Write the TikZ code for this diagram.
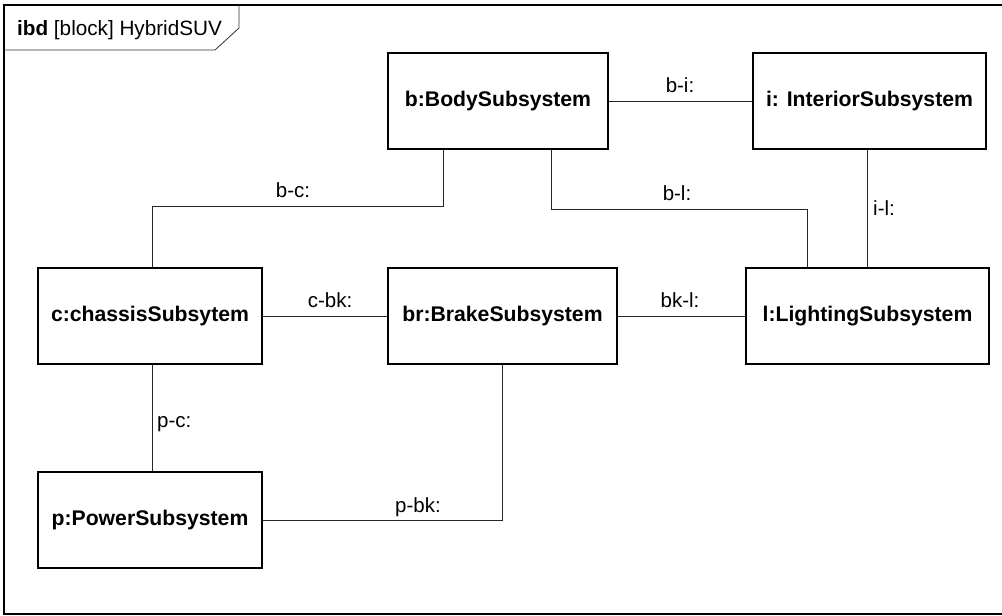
\documentclass[tikz,border=0pt]{standalone}
\usepackage{fontspec}
\setmainfont{Liberation Sans}
\usepackage{tikz}

\begin{document}
\begin{tikzpicture}[x=1pt, y=-1pt,
  part/.style={draw, line width=1.6pt, minimum height=96pt, inner sep=0pt, font=\fontsize{21.2}{25}\selectfont\bfseries},
  conn/.style={line width=0.9pt, black!85},
  lbl/.style={inner sep=0pt, anchor=base, font=\fontsize{20.5}{24}\selectfont}]
\useasboundingbox (0,0) rectangle (1002,616);

% Frame
\draw[line width=1.3pt] (4,5) rectangle (1010,614);
\draw[line width=0.8pt, black!80] (4,50) -- (215,50) -- (239,28) -- (239,5);
\node[anchor=base west, inner sep=0pt, font=\fontsize{20.7}{24}\selectfont] (title) at (17,35) {\textbf{ibd} [block] HybridSUV};

% Parts
\node[part, minimum width=220pt] (b) at (498,101) {b:BodySubsystem};
\node[part, minimum width=233pt] (i) at (869.5,101) {i: InteriorSubsystem};
\node[part, minimum width=224pt] (c) at (150,316) {c:chassisSubsytem};
\node[part, minimum width=229pt] (br) at (502.5,316) {br:BrakeSubsystem};
\node[part, minimum width=243pt] (l) at (867.5,316) {l:LightingSubsystem};
\node[part, minimum width=224pt] (p) at (150,520) {p:PowerSubsystem};

% Connectors
\draw[conn] (b) -- (i);
\draw[conn] ([xshift=-55pt]b.south) -- ++(0,57) -| ([xshift=2pt]c.north);
\draw[conn] ([xshift=53pt]b.south) -- ++(0,60) -| ([xshift=-60.5pt]l.north);
\draw[conn] (i.south -| l.north) -- (l.north);
\draw[conn] (c) -- (br);
\draw[conn] (br) -- (l);
\draw[conn] ([xshift=2pt]c.south) -- ([xshift=2pt]p.north);
\draw[conn] (p.east) -| (br.south);

% Labels
\node[lbl] (bi-txt) at (680,92) {b-i:};
\node[lbl] (bc-txt) at (293,197) {b-c:};
\node[lbl] (bl-txt) at (677,200) {b-l:};
\node[lbl, anchor=base west] (il-txt) at (873,215) {i-l:};
\node[lbl] (cbk-txt) at (330,307) {c-bk:};
\node[lbl] (bkl-txt) at (680,307) {bk-l:};
\node[lbl, anchor=base west] (pc-txt) at (157,427) {p-c:};
\node[lbl] (pbk-txt) at (418,512) {p-bk:};

\end{tikzpicture}
\end{document}
